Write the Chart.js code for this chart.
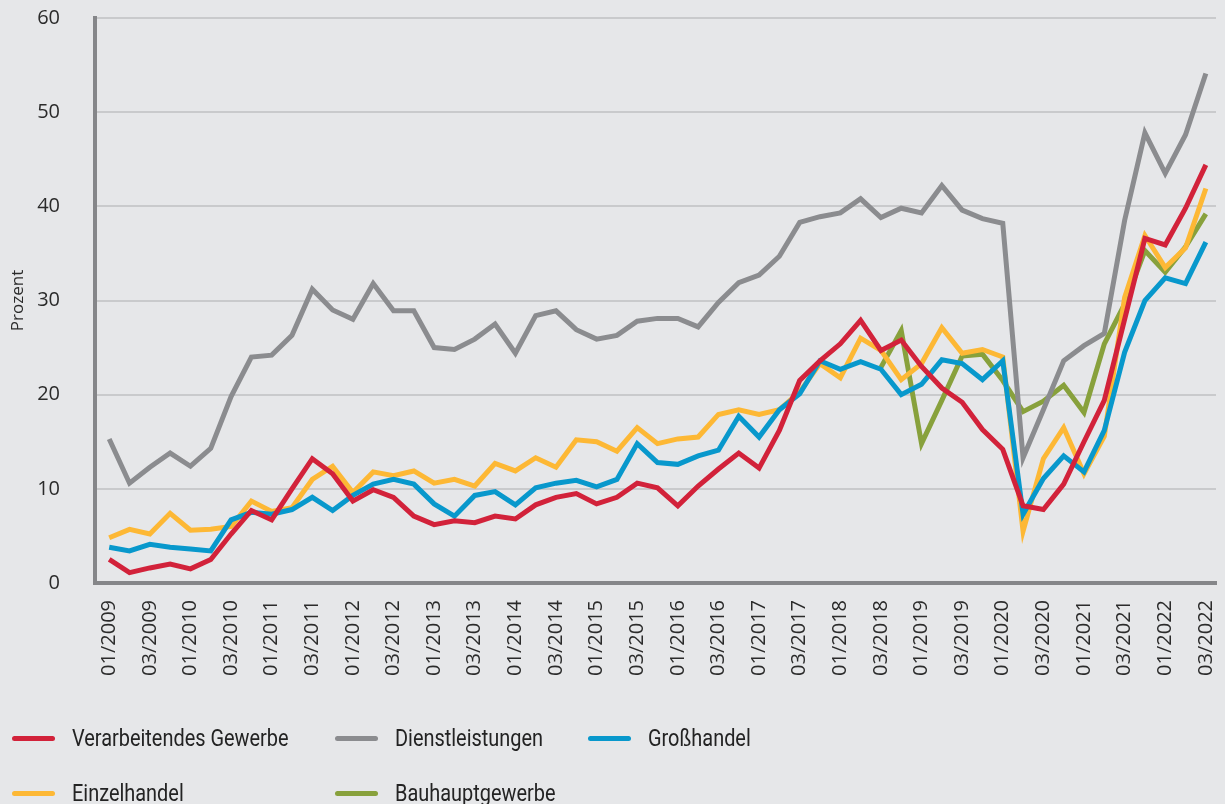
<!DOCTYPE html>
<html lang="de">
<head>
<meta charset="utf-8">
<title>Anteil Unternehmen</title>
<script src="https://cdn.jsdelivr.net/npm/chart.js@4.4.1/dist/chart.umd.min.js"></script>
<style>
  html, body { margin: 0; padding: 0; background: #e6e7e9; }
  #wrap { position: relative; width: 1225px; height: 804px; overflow: hidden; background: #e6e7e9; }
  #chart { position: absolute; left: 0; top: 0; }
  .item { position: absolute; height: 30px; line-height: 30px; display: flex; align-items: center;
          font-family: "Roboto", sans-serif; font-size: 24px; color: #232323; white-space: nowrap; }
  .swatch { width: 43px; height: 5px; border-radius: 3px; margin-right: 17px; flex: none; }
  .txt { display: inline-block; transform: scaleX(0.83); transform-origin: left center; }
</style>
</head>
<body>
<div id="wrap">
  <canvas id="chart" width="1225" height="804"></canvas>
  <div id="legend"></div>
</div>
<script>
// Quartale 01/2009 ... 03/2022
const quartale = [
  "01/2009","02/2009","03/2009","04/2009","01/2010","02/2010","03/2010","04/2010",
  "01/2011","02/2011","03/2011","04/2011","01/2012","02/2012","03/2012","04/2012",
  "01/2013","02/2013","03/2013","04/2013","01/2014","02/2014","03/2014","04/2014",
  "01/2015","02/2015","03/2015","04/2015","01/2016","02/2016","03/2016","04/2016",
  "01/2017","02/2017","03/2017","04/2017","01/2018","02/2018","03/2018","04/2018",
  "01/2019","02/2019","03/2019","04/2019","01/2020","02/2020","03/2020","04/2020",
  "01/2021","02/2021","03/2021","04/2021","01/2022","02/2022","03/2022"
];

const verarbeitendesGewerbe = [
  2.5, 1.1, 1.6, 2.0, 1.5, 2.5, 5.2, 7.7, 6.7, 10.0, 13.2, 11.6, 8.7, 9.9,
  9.1, 7.1, 6.2, 6.6, 6.4, 7.1, 6.8, 8.3, 9.1, 9.5, 8.4, 9.1, 10.6, 10.1,
  8.2, 10.3, 12.1, 13.8, 12.2, 16.2, 21.5, 23.6, 25.4, 27.9, 24.7, 25.8, 23.0,
  20.7, 19.2, 16.3, 14.2, 8.2, 7.8, 10.5, 15.0, 19.4, 28.0, 36.6, 35.9, 39.8, 44.4
];
const dienstleistungen = [
  15.3, 10.6, 12.3, 13.8, 12.4, 14.3, 19.8, 24.0, 24.2, 26.3, 31.2, 29.0, 28.0, 31.8,
  28.9, 28.9, 25.0, 24.8, 25.9, 27.5, 24.4, 28.4, 28.9, 26.9, 25.9, 26.3, 27.8, 28.1,
  28.1, 27.2, 29.8, 31.9, 32.7, 34.7, 38.3, 38.9, 39.3, 40.8, 38.8, 39.8, 39.3,
  42.2, 39.6, 38.7, 38.2, 13.3, 18.4, 23.6, 25.2, 26.5, 38.5, 47.8, 43.5, 47.6, 54.1
];
const grosshandel = [
  3.8, 3.4, 4.1, 3.8, 3.6, 3.4, 6.7, 7.5, 7.3, 7.8, 9.1, 7.7, 9.3, 10.5,
  11.0, 10.5, 8.4, 7.1, 9.3, 9.7, 8.3, 10.1, 10.6, 10.9, 10.2, 11.0, 14.8, 12.8,
  12.6, 13.5, 14.1, 17.7, 15.5, 18.4, 20.1, 23.6, 22.7, 23.5, 22.7, 20.0, 21.1,
  23.7, 23.3, 21.6, 23.6, 7.3, 11.1, 13.5, 11.8, 16.2, 24.5, 30.0, 32.4, 31.8, 36.2
];
const einzelhandel = [
  4.8, 5.7, 5.2, 7.4, 5.6, 5.7, 6.0, 8.7, 7.6, 8.0, 11.0, 12.4, 9.6, 11.8,
  11.4, 11.9, 10.6, 11.0, 10.3, 12.7, 11.9, 13.3, 12.3, 15.2, 15.0, 14.0, 16.5, 14.8,
  15.3, 15.5, 17.9, 18.4, 17.9, 18.4, 20.3, 23.3, 21.8, 26.0, 24.7, 21.6, 23.3,
  27.1, 24.4, 24.8, 24.0, 5.5, 13.2, 16.5, 11.6, 15.6, 30.3, 36.9, 33.5, 35.6, 41.9
];
// Bauhauptgewerbe erst ab 03/2018
const bauhauptgewerbe = [
  null, null, null, null, null, null, null, null, null, null, null, null, null, null,
  null, null, null, null, null, null, null, null, null, null, null, null, null, null,
  null, null, null, null, null, null, null, null, null, null, 22.9, 26.8, 14.8,
  19.4, 24.1, 24.3, 21.5, 18.2, 19.3, 21.0, 18.1, 25.4, 29.6, 35.3, 33.0, 35.7, 39.2
];

const reihen = [
  { label: "Verarbeitendes Gewerbe", werte: verarbeitendesGewerbe, farbe: "#d2223a" },
  { label: "Dienstleistungen", werte: dienstleistungen, farbe: "#8b8c8f" },
  { label: "Großhandel", werte: grosshandel, farbe: "#0898cc" },
  { label: "Einzelhandel", werte: einzelhandel, farbe: "#fdb835" },
  { label: "Bauhauptgewerbe", werte: bauhauptgewerbe, farbe: "#88a13c" }
];

// Legendenpositionen (Spalte x, Zeile y)
const legendePos = [[12, 738], [335, 738], [588, 738], [12, 793], [335, 793]];

const tickFont = { family: "'Open Sans', 'Noto Sans', sans-serif", size: 20 };

const chart = new Chart(document.getElementById("chart"), {
  type: "line",
  data: {
    datasets: reihen.map(r => ({
      label: r.label,
      data: r.werte.map((v, i) => ({ x: i, y: v })),
      borderColor: r.farbe,
      backgroundColor: r.farbe,
      borderWidth: 5,
      borderJoinStyle: "miter",
      pointRadius: 0,
      tension: 0,
      fill: false
    }))
  },
  options: {
    responsive: false,
    animation: false,
    layout: { padding: { top: 18, right: 9, left: 0, bottom: 0 } },
    plugins: { legend: { display: false }, tooltip: { enabled: false } },
    scales: {
      x: {
        type: "linear",
        min: -0.7,
        max: 54.5,
        afterBuildTicks(s) {
          s.ticks = quartale.map((q, i) => ({ value: i })).filter(t => t.value % 2 === 0);
        },
        afterFit(s) {
          s.height = 804 - 583;
          s.paddingLeft = 0;
          s.paddingRight = 0;
        },
        ticks: {
          autoSkip: false,
          maxRotation: 90,
          minRotation: 90,
          padding: 17,
          color: "#2b2b2b",
          font: tickFont,
          callback: v => quartale[v]
        },
        grid: { display: false, drawTicks: false },
        border: { display: true, color: "#858689", width: 4 }
      },
      y: {
        min: 0,
        max: 60,
        afterFit(s) {
          s.width = 95;
          s.paddingTop = 0;
          s.paddingBottom = 0;
        },
        ticks: { stepSize: 10, padding: 35, color: "#2b2b2b", font: tickFont },
        grid: { color: "#c9cacc", lineWidth: 2, drawTicks: false },
        border: { display: true, color: "#858689", width: 4 },
        title: {
          display: true,
          text: "Prozent",
          color: "#2b2b2b",
          font: { family: "'Open Sans', 'Noto Sans', sans-serif", size: 17 },
          padding: { top: 8, bottom: 0 }
        }
      }
    }
  }
});

// HTML-Legende aus den Datensaetzen
const legend = document.getElementById("legend");
chart.data.datasets.forEach((ds, i) => {
  const el = document.createElement("div");
  el.className = "item";
  el.style.left = legendePos[i][0] + "px";
  el.style.top = (legendePos[i][1] - 15) + "px";
  el.innerHTML = `<span class="swatch" style="background:${ds.borderColor}"></span><span class="txt">${ds.label}</span>`;
  legend.appendChild(el);
});
</script>
</body>
</html>
